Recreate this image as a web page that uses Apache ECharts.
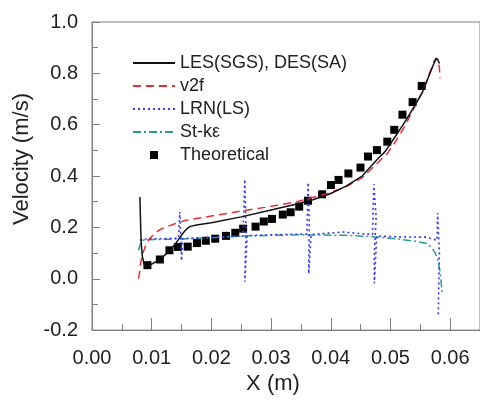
<!DOCTYPE html>
<html>
<head>
<meta charset="utf-8">
<script src="https://cdn.jsdelivr.net/npm/echarts@6/dist/echarts.min.js"></script>
<style>html,body{margin:0;padding:0;background:#fff}#c{width:480px;height:400px}</style>
</head>
<body>
<div id="c"></div>
<script>
// LES(SGS), DES(SA)
const lesX = [0.00802,0.00810,0.00818,0.00830,0.00845,0.00870,0.00900,0.00950,0.01000,0.01100,0.01200,0.01300,0.01400,0.01480,0.01550,0.01600,0.01650,0.01750,0.02000,0.02500,0.03000,0.03430,0.03700,0.03980,0.04250,0.04530,0.04800,0.04910,0.05070,0.05240,0.05400,0.05540,0.05670,0.05740,0.05770,0.05800,0.05820];
const lesY = [0.318,0.250,0.180,0.120,0.085,0.060,0.048,0.050,0.057,0.070,0.088,0.108,0.137,0.163,0.185,0.197,0.204,0.209,0.218,0.241,0.268,0.291,0.308,0.330,0.360,0.401,0.470,0.495,0.550,0.610,0.671,0.728,0.805,0.845,0.858,0.850,0.838];
// v2f
const v2fX = [0.00780,0.00800,0.00818,0.00860,0.00901,0.00960,0.01040,0.01130,0.01230,0.01400,0.01560,0.01890,0.02380,0.02900,0.03430,0.03980,0.04250,0.04530,0.04800,0.04960,0.05100,0.05240,0.05400,0.05540,0.05670,0.05740,0.05770,0.05800,0.05820,0.05830];
const v2fY = [0.000,0.030,0.066,0.105,0.130,0.155,0.175,0.190,0.201,0.215,0.227,0.240,0.259,0.278,0.300,0.334,0.358,0.394,0.455,0.491,0.540,0.594,0.668,0.730,0.810,0.852,0.860,0.850,0.820,0.780];
// LRN(LS)
const lrnX = [0.0080,0.0090,0.0120,0.0145,0.0147,0.0149,0.0150,0.0152,0.0200,0.0253,0.0256,0.0258,0.0256,0.0260,0.0310,0.0360,0.0362,0.0364,0.0363,0.0367,0.0420,0.0470,0.0472,0.0476,0.0473,0.0473,0.0477,0.0520,0.0560,0.0578,0.0579,0.0582,0.0580];
const lrnY = [0.150,0.155,0.156,0.158,0.260,0.160,0.070,0.156,0.162,0.166,0.387,0.200,-0.012,0.168,0.172,0.174,0.375,0.220,0.020,0.172,0.182,0.172,0.369,0.240,0.100,-0.018,0.166,0.163,0.162,0.150,0.256,0.100,-0.147];
// St-kε
const skeX = [0.00780,0.00810,0.00835,0.0090,0.0150,0.0200,0.0250,0.0300,0.0350,0.0425,0.0470,0.0507,0.0540,0.0562,0.0570,0.0575,0.0579,0.0583,0.0587];
const skeY = [0.111,0.135,0.149,0.152,0.155,0.160,0.166,0.169,0.171,0.169,0.164,0.156,0.147,0.137,0.119,0.100,0.078,0.030,-0.063];
// Theoretical
const thX = [0.00928,0.01137,0.01297,0.01438,0.01603,0.01758,0.01906,0.02064,0.02245,0.02400,0.02532,0.02740,0.02878,0.03015,0.03196,0.03328,0.03471,0.03619,0.03855,0.04003,0.04130,0.04295,0.04498,0.04624,0.04773,0.04947,0.05063,0.05201,0.05371,0.05524];
const thY = [0.053,0.075,0.111,0.124,0.125,0.139,0.148,0.156,0.167,0.179,0.195,0.203,0.223,0.233,0.250,0.259,0.281,0.304,0.329,0.365,0.385,0.410,0.433,0.476,0.501,0.534,0.580,0.639,0.688,0.751];

const zip = (a, b) => a.map((v, i) => [v, b[i]]);
const FONT = "'Liberation Sans', Arial, sans-serif";
const TXT = '#222';
const AX = '#808080';
const noSym = {opacity: 0};

const chart = echarts.init(document.getElementById('c'), null, {renderer: 'canvas'});
chart.setOption({
  animation: false,
  backgroundColor: '#fff',
  grid: {left: 92, top: 22, right: -7, bottom: 68, show: true, borderColor: AX, borderWidth: 1, containLabel: false},
  legend: {
    orient: 'vertical', left: 127, top: 49,
    itemWidth: 42, itemHeight: 8, itemGap: 5, symbolKeepAspect: true,
    textStyle: {fontFamily: FONT, fontSize: 18, color: TXT},
    data: [
      {name: 'LES(SGS), DES(SA)', itemStyle: noSym},
      {name: 'v2f', itemStyle: noSym},
      {name: 'LRN(LS)', itemStyle: noSym},
      {name: 'St-kε', itemStyle: noSym},
      {name: 'Theoretical', icon: 'path://M0,0L10,0L10,10L0,10Z'}
    ]
  },
  xAxis: {
    type: 'value', min: 0, max: 0.065, interval: 0.01,
    name: 'X (m)', nameLocation: 'middle', nameGap: 32,
    nameTextStyle: {fontFamily: FONT, fontSize: 22, color: TXT, padding: [0, 26, 0, 0]},
    axisLine: {show: true, onZero: false, lineStyle: {color: AX}},
    axisTick: {show: true, inside: true, length: 12, lineStyle: {color: AX}},
    minorTick: {show: true, splitNumber: 2, length: 6, lineStyle: {color: AX}},
    splitLine: {show: false},
    axisLabel: {fontFamily: FONT, fontSize: 20, color: TXT, margin: 18, showMaxLabel: false, formatter: v => v.toFixed(2)}
  },
  yAxis: {
    type: 'value', min: -0.2, max: 1.0, interval: 0.2,
    name: 'Velocity (m/s)', nameLocation: 'middle', nameGap: 43,
    nameTextStyle: {fontFamily: FONT, fontSize: 22, color: TXT, padding: [0, 0, 0, 34]},
    axisLine: {show: true, onZero: false, lineStyle: {color: AX}},
    axisTick: {show: true, inside: true, length: 8, lineStyle: {color: AX}},
    minorTick: {show: true, splitNumber: 2, length: 6, lineStyle: {color: AX}},
    splitLine: {show: false},
    axisLabel: {fontFamily: FONT, fontSize: 20, color: TXT, margin: 14, formatter: v => v.toFixed(1)}
  },
  series: [
    {name: 'St-kε', type: 'line', data: zip(skeX, skeY), symbol: 'none', color: '#2a9a96',
     lineStyle: {width: 1.5, type: [8, 3, 2, 3], color: '#2a9a96'}},
    {name: 'LRN(LS)', type: 'line', data: zip(lrnX, lrnY), symbol: 'none', color: '#3a3ae0',
     lineStyle: {width: 1.6, type: [2, 3], color: '#3a3ae0'}},
    {name: 'v2f', type: 'line', data: zip(v2fX, v2fY), symbol: 'none', color: '#e0303a',
     lineStyle: {width: 1.5, type: [8, 5], color: '#e0303a'}},
    {name: 'LES(SGS), DES(SA)', type: 'line', data: zip(lesX, lesY), symbol: 'none', color: '#111',
     lineStyle: {width: 1.5, color: '#111'}},
    {name: 'Theoretical', type: 'scatter', data: zip(thX, thY), symbol: 'rect', symbolSize: 8,
     itemStyle: {color: '#000', opacity: 1}}
  ]
});
</script>
</body>
</html>
